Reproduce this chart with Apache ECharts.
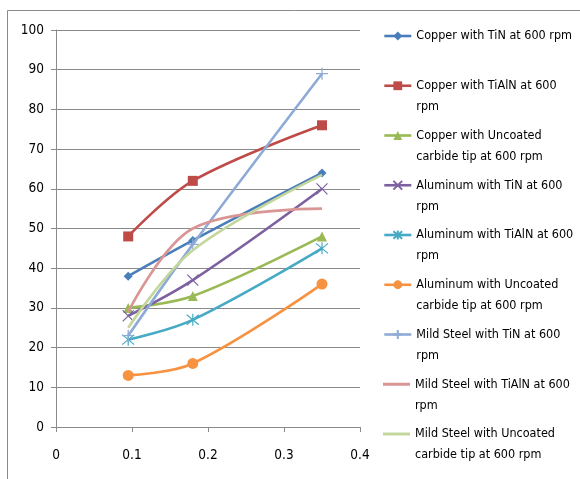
<!DOCTYPE html>
<html>
<head>
<meta charset="utf-8">
<script src="https://cdn.jsdelivr.net/npm/echarts@6/dist/echarts.min.js"></script>
<style>html,body{margin:0;padding:0;background:#fff}#c{width:580px;height:479px}</style>
</head>
<body>
<div id="c"></div>
<script>
// ---- data ----
const feeds = [0.095, 0.18, 0.35];
const seriesNames = [
  'Copper with TiN at 600 rpm',
  'Copper with TiAlN at 600 rpm',
  'Copper with Uncoated carbide tip at 600 rpm',
  'Aluminum with TiN at 600 rpm',
  'Aluminum with TiAlN at 600 rpm',
  'Aluminum with Uncoated carbide tip at 600 rpm',
  'Mild Steel with TiN at 600 rpm',
  'Mild Steel with TiAlN at 600 rpm',
  'Mild Steel with Uncoated carbide tip at 600 rpm'
];
const legendLines = [
  ['Copper with TiN at 600 rpm'],
  ['Copper with TiAlN at 600', 'rpm'],
  ['Copper with Uncoated', 'carbide tip at 600 rpm'],
  ['Aluminum with TiN at 600', 'rpm'],
  ['Aluminum with TiAlN at 600', 'rpm'],
  ['Aluminum with Uncoated', 'carbide tip at 600 rpm'],
  ['Mild Steel with TiN at 600', 'rpm'],
  ['Mild Steel with TiAlN at 600', 'rpm'],
  ['Mild Steel with Uncoated', 'carbide tip at 600 rpm']
];
const copperTiN = [38, 47, 64];
const copperTiAlN = [48, 62, 76];
const copperUncoated = [30, 33, 48];
const aluminumTiN = [28, 37, 60];
const aluminumTiAlN = [22, 27, 45];
const aluminumUncoated = [13, 16, 36];
const mildSteelTiN = [23, 46, 89];
const mildSteelTiAlN = [29, 50, 55];
const mildSteelUncoated = [25, 44.5, 63.5];
const xTicks = [0, 0.1, 0.2, 0.3, 0.4];
const yTicks = [0, 10, 20, 30, 40, 50, 60, 70, 80, 90, 100];

const allValues = [copperTiN, copperTiAlN, copperUncoated, aluminumTiN, aluminumTiAlN,
  aluminumUncoated, mildSteelTiN, mildSteelTiAlN, mildSteelUncoated];

// ---- styles ----
const colors = ['#4A7EBB', '#BE4B48', '#98B954', '#7D60A0', '#46AAC5', '#F69240', '#8DABD6', '#D99694', '#C3D69B'];
const symbols = [
  'diamond', 'rect', 'triangle',
  'path://M0,0L10,10M10,0L0,10',
  'path://M0,1L10,11M10,1L0,11M5,0L5,12',
  'circle',
  'path://M5,0L5,10M0,5L10,5',
  'none', 'none'
];
const symbolSizes = [9, 10, 10, 11, 12, 11, 12, 0, 0];

// choose a narrow-ish installed font and size it to the reference legend width
function pickFont() {
  const ctx = document.createElement('canvas').getContext('2d');
  const test = 'Copper with TiN at 600 rpm';
  ctx.font = '100px monospace';
  const mono = ctx.measureText(test).width;
  const cands = ['Liberation Sans Narrow', 'DejaVu Sans Condensed', 'Lato', 'Roboto', 'Liberation Sans'];
  for (const f of cands) {
    ctx.font = '100px "' + f + '", monospace';
    const w = ctx.measureText(test).width;
    if (Math.abs(w - mono) > 0.5) return { family: '"' + f + '", sans-serif', w: w };
  }
  ctx.font = '100px sans-serif';
  return { family: 'sans-serif', w: ctx.measureText(test).width };
}
const picked = pickFont();
const FONT = picked.family;
const FS = Math.max(12, Math.min(16, Math.round(158 * 100 / picked.w * 2) / 2));
const LH = 21;

const series = seriesNames.map((name, i) => {
  const isPath = symbols[i].indexOf('path://') === 0;
  return {
    name: name,
    type: 'line',
    data: feeds.map((x, j) => [x, allValues[i][j]]),
    smooth: 0.35,
    symbol: symbols[i],
    symbolSize: symbolSizes[i],
    showSymbol: symbols[i] !== 'none',
    lineStyle: { color: colors[i], width: 2.6 },
    itemStyle: isPath ? { color: colors[i], borderColor: colors[i], borderWidth: 1.2 } : { color: colors[i] },
    emphasis: { disabled: true },
    z: 2 + i
  };
});

const legends = seriesNames.map((name, i) => {
  const c = 36 + 49.75 * i;
  const two = legendLines[i].length > 1;
  const noMarker = symbols[i] === 'none';
  return {
    data: [noMarker ? { name: name, icon: 'rect' } : name],
    left: 383,
    top: two ? c - 1.5 * LH : c - 0.5 * LH,
    padding: 0,
    itemWidth: 27,
    itemHeight: noMarker ? 3 : 11,
    selectedMode: false,
    formatter: () => (two ? ' \n' : '') + legendLines[i].join('\n'),
    lineStyle: { width: 2.6 },
    textStyle: { fontFamily: FONT, fontSize: FS, color: '#000', lineHeight: LH }
  };
});

const chart = echarts.init(document.getElementById('c'), null, { renderer: 'canvas' });
chart.setOption({
  animation: false,
  backgroundColor: '#fff',
  color: colors,
  graphic: [{
    type: 'rect', silent: true,
    shape: { x: 7.5, y: 10.5, width: 620, height: 520 },
    style: { fill: 'none', stroke: '#8a8a8a', lineWidth: 1 }
  }],
  grid: { left: 56, right: 220, top: 30, bottom: 52, containLabel: false },
  xAxis: {
    type: 'value', min: xTicks[0], max: xTicks[xTicks.length - 1], interval: 0.1,
    axisLine: { show: true, lineStyle: { color: '#8a8a8a', width: 1 } },
    axisTick: { show: true, length: 5, lineStyle: { color: '#8a8a8a' } },
    splitLine: { show: false },
    axisLabel: { fontFamily: FONT, fontSize: FS + 1, color: '#000', margin: 21, formatter: v => String(+v.toFixed(1)) }
  },
  yAxis: {
    type: 'value', min: yTicks[0], max: yTicks[yTicks.length - 1], interval: 10,
    axisLine: { show: true, lineStyle: { color: '#8a8a8a', width: 1 } },
    axisTick: { show: true, length: 5, lineStyle: { color: '#8a8a8a' } },
    splitLine: { show: true, lineStyle: { color: '#8a8a8a', width: 1 } },
    axisLabel: { fontFamily: FONT, fontSize: FS + 1, color: '#000', margin: 12 }
  },
  legend: legends,
  series: series
});
</script>
</body>
</html>
